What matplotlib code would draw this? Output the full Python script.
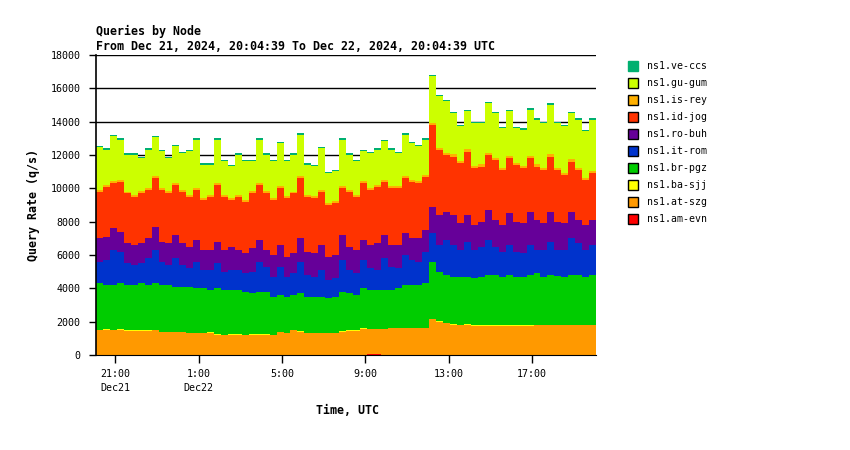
import numpy as np
import matplotlib
matplotlib.use("Agg")
import matplotlib.pyplot as plt
from matplotlib.patches import Rectangle

# 20-minute buckets starting at Dec 21 20:04:39 UTC (hours since Dec 21 00:00)
start_hour = 20 + 4 / 60 + 39 / 3600
n_buckets = 72

# upper edge of each stacked layer (q/s)
total = [12550, 12400, 13200, 13000, 12100, 12100, 11900, 12400, 13150, 12300, 11900, 12600, 12200,
         12300, 13000, 11500, 11500, 13000, 11700, 11400, 12100, 11700, 11700, 13000, 12100,
         11700, 12800, 11700, 12100, 13300, 11500, 11400, 12500, 11000, 11100, 13000, 12100,
         11700, 12300, 12200, 12400, 12900, 12400, 12200, 13300, 12800, 12600, 13000, 16800,
         15600, 15300, 14600, 13800, 14700, 14000, 14000, 15200, 14600, 13700, 14700, 13700,
         13600, 14800, 14200, 14000, 15100, 14000, 13800, 14600, 14200, 13500, 14200]
id_jog_top = [9800, 10100, 10300, 10400, 9700, 9500, 9700, 9900, 10600, 9900, 9700, 10200, 9800,
              9500, 9900, 9300, 9500, 10200, 9500, 9300, 9500, 9200, 9700, 10200, 9700,
              9300, 10000, 9400, 9700, 10600, 9500, 9400, 9800, 9000, 9100, 10000, 9800,
              9500, 10300, 9900, 10100, 10400, 10000, 10000, 10600, 10400, 10300, 10700, 13800,
              12300, 12000, 11900, 11500, 12200, 11200, 11300, 12000, 11700, 11100, 11800, 11400,
              11200, 11800, 11300, 11100, 11900, 11100, 10800, 11600, 11100, 10500, 10900]
ro_buh_top = [7000, 7100, 7600, 7400, 6700, 6600, 6700, 7000, 7700, 6800, 6700, 7200, 6700,
              6500, 6900, 6300, 6300, 6800, 6300, 6500, 6300, 6100, 6400, 6900, 6300,
              6000, 6600, 5900, 6100, 7000, 6200, 6100, 6600, 5900, 6000, 7200, 6500,
              6300, 6900, 6600, 6700, 7200, 6600, 6600, 7300, 7000, 7000, 7500, 8900,
              8400, 8600, 8400, 7900, 8400, 7800, 8000, 8700, 8100, 7800, 8500, 8000,
              7900, 8600, 8100, 7900, 8600, 8000, 7900, 8600, 8100, 7800, 8100]
it_rom_top = [5600, 5700, 6300, 6200, 5500, 5400, 5500, 5800, 6300, 5600, 5400, 5800, 5400,
              5200, 5600, 5100, 5100, 5500, 5000, 5100, 5100, 4900, 5000, 5600, 5300,
              4700, 5300, 4700, 4900, 5600, 4800, 4700, 5100, 4500, 4600, 5700, 5100,
              4900, 5700, 5200, 5100, 5800, 5300, 5200, 6000, 5700, 5600, 6200, 7300,
              6600, 6900, 6600, 6300, 6800, 6300, 6500, 6900, 6500, 6200, 6600, 6200,
              6100, 6600, 6300, 6300, 6800, 6300, 6300, 7000, 6700, 6300, 6600]
br_pgz_top = [4300, 4200, 4200, 4300, 4200, 4200, 4300, 4200, 4300, 4200, 4200, 4100, 4100,
              4100, 4000, 4000, 3900, 4000, 3900, 3900, 3900, 3800, 3700, 3800, 3800,
              3500, 3600, 3500, 3600, 3700, 3500, 3500, 3500, 3400, 3500, 3800, 3700,
              3600, 4000, 3900, 3900, 3900, 3900, 4000, 4200, 4200, 4200, 4300, 5600,
              5000, 4800, 4700, 4700, 4700, 4600, 4700, 4800, 4800, 4700, 4800, 4700,
              4700, 4800, 4900, 4700, 4800, 4750, 4700, 4800, 4800, 4700, 4800]
at_szg_top = [1500, 1500, 1500, 1500, 1450, 1450, 1450, 1450, 1500, 1350, 1350, 1350, 1350,
              1300, 1300, 1300, 1300, 1200, 1200, 1200, 1200, 1200, 1200, 1200, 1200,
              1200, 1350, 1300, 1500, 1400, 1300, 1300, 1300, 1300, 1300, 1400, 1450,
              1450, 1550, 1550, 1550, 1550, 1600, 1600, 1600, 1600, 1600, 1600, 2150,
              2000, 1900, 1800, 1800, 1800, 1750, 1750, 1750, 1750, 1750, 1750, 1750,
              1750, 1750, 1780, 1780, 1780, 1780, 1780, 1780, 1780, 1780, 1780]

# thin layers (own thickness, q/s)
am_evn = [0] * 29 + [20, 0, 0, 0, 0, 0, 0, 0, 0, 0, 40, 80] + [0] * 31
ba_sjj = [20, 30, 20, 30, 20, 20, 40, 30, 20, 30, 40, 30, 20, 30, 40, 30, 50, 30, 20, 30, 40, 20, 30, 40,
          30, 20, 40, 30, 20, 30, 40, 30, 20, 40, 30, 20, 30, 20, 40, 30, 20, 30, 40, 30, 20, 30, 40, 30,
          30, 20, 30, 40, 20, 30, 30, 40, 30, 20, 30, 30, 40, 20, 30, 30, 40, 30, 20, 30, 40, 30, 30, 40]
is_rey = [120, 110, 130, 120, 110, 120, 130, 120, 120, 110, 130, 120, 110, 120, 130, 120, 110, 120,
          130, 120, 110, 120, 130, 120, 120, 110, 130, 120, 110, 120, 130, 120, 110, 120, 130, 120,
          120, 110, 130, 120, 110, 120, 130, 120, 120, 110, 130, 120, 150, 140, 150, 140, 150, 140,
          140, 150, 140, 150, 140, 150, 140, 150, 140, 150, 140, 150, 140, 150, 140, 150, 140, 150]
ve_ccs = [70] * 72

names = ["ns1.ve-ccs", "ns1.gu-gum", "ns1.is-rey", "ns1.id-jog", "ns1.ro-buh",
         "ns1.it-rom", "ns1.br-pgz", "ns1.ba-sjj", "ns1.at-szg", "ns1.am-evn"]
colors = ["#00b070", "#ccff00", "#ffb000", "#ff3300", "#660099",
          "#0033cc", "#00cc00", "#ffff00", "#ff9900", "#ff0000"]

tick_hours = [21, 25, 29, 33, 37, 41]
tick_labels = ["21:00\nDec21", "1:00\nDec22", "5:00", "9:00", "13:00", "17:00"]

# stacked boundaries, bottom to top
b_am = np.array(am_evn, float)
b_at = np.array(at_szg_top, float)
b_ba = b_at + np.array(ba_sjj)
b_br = np.array(br_pgz_top, float)
b_it = np.array(it_rom_top, float)
b_ro = np.array(ro_buh_top, float)
b_id = np.array(id_jog_top, float)
b_is = b_id + np.array(is_rey)
b_tot = np.array(total, float)
b_gu = b_tot - np.array(ve_ccs)
zero = np.zeros(n_buckets)

layers = [(zero, b_am, colors[9]), (b_am, b_at, colors[8]), (b_at, b_ba, colors[7]),
          (b_ba, b_br, colors[6]), (b_br, b_it, colors[5]), (b_it, b_ro, colors[4]),
          (b_ro, b_id, colors[3]), (b_id, b_is, colors[2]), (b_is, b_gu, colors[1]),
          (b_gu, b_tot, colors[0])]

x = start_hour + np.arange(n_buckets + 1) / 3.0

mono = "DejaVu Sans Mono"
plt.rcParams["font.family"] = mono

fig = plt.figure(figsize=(8.5, 4.5), dpi=100)
ax = fig.add_axes([96 / 850, 1 - 355 / 450, (596 - 96) / 850, 300 / 450])

for lo, hi, c in layers:
    lo2 = np.append(lo, lo[-1])
    hi2 = np.append(hi, hi[-1])
    ax.fill_between(x, lo2, hi2, step="post", color=c, linewidth=0, zorder=2)

ax.set_xlim(start_hour, start_hour + 24)
ax.set_ylim(0, 18000)
ax.set_yticks(range(0, 18001, 2000))
ax.set_xticks(tick_hours)
ax.set_xticklabels(tick_labels, fontsize=7.2, linespacing=1.5)
ax.tick_params(axis="y", labelsize=7.2, length=5, width=1, direction="out", pad=6)
ax.tick_params(axis="x", length=6, width=1, direction="out", pad=4)
ax.yaxis.grid(True, color="black", linewidth=1)
ax.set_axisbelow(True)
for s in ["top", "right"]:
    ax.spines[s].set_visible(False)
ax.spines["left"].set_linewidth(1.2)
ax.spines["bottom"].set_linewidth(0.8)

fig.text(96 / 850, 1 - 31 / 450, "Queries by Node", fontsize=8.4, fontweight="bold", va="center")
fig.text(96 / 850, 1 - 47 / 450, "From Dec 21, 2024, 20:04:39 To Dec 22, 2024, 20:04:39 UTC",
         fontsize=8.4, fontweight="bold", va="center")
fig.text(33 / 850, 1 - 205 / 450, "Query Rate (q/s)", fontsize=8.4, fontweight="bold",
         rotation=90, ha="center", va="center")
fig.text(348 / 850, 1 - 410 / 450, "Time, UTC", fontsize=8.4, fontweight="bold",
         ha="center", va="center")

# legend
for i, (name, c) in enumerate(zip(names, colors)):
    yc = 66 + 17 * i
    ec = c if i == 0 else "black"
    fig.patches.append(Rectangle((628 / 850, 1 - (yc + 5) / 450), 10 / 850, 10 / 450,
                                 transform=fig.transFigure, facecolor=c, edgecolor=ec, linewidth=1))
    fig.text(647 / 850, 1 - yc / 450, name, fontsize=7.1, va="center")

fig.savefig("out.png", dpi=100)
